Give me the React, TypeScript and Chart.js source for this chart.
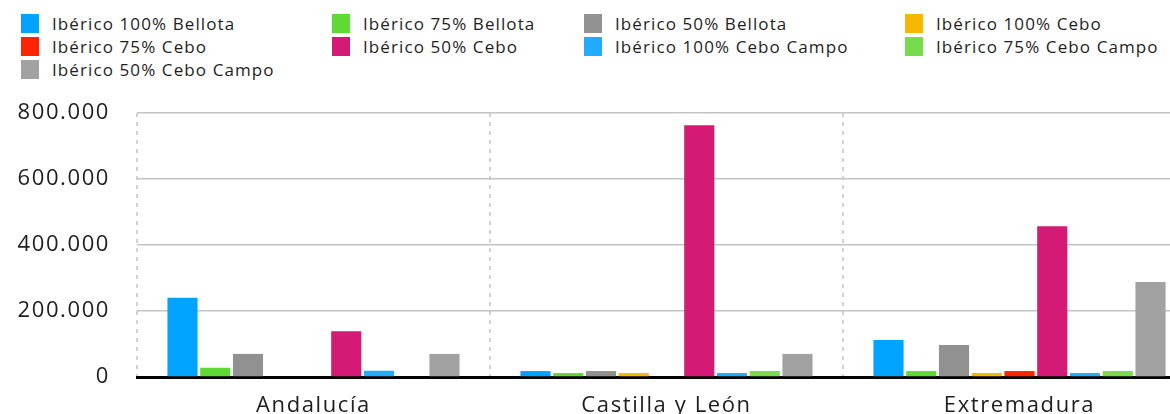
import React, { useEffect, useRef } from "react";
import { Chart, registerables } from "chart.js";

Chart.register(...registerables);

const categories = ["Andalucía", "Castilla y León", "Extremadura"];

const seriesNames = [
  "Ibérico 100% Bellota",
  "Ibérico 75% Bellota",
  "Ibérico 50% Bellota",
  "Ibérico 100% Cebo",
  "Ibérico 75% Cebo",
  "Ibérico 50% Cebo",
  "Ibérico 100% Cebo Campo",
  "Ibérico 75% Cebo Campo",
  "Ibérico 50% Cebo Campo",
];

const seriesColors = [
  "#00A3FF",
  "#5FD934",
  "#919191",
  "#F5B700",
  "#FF2400",
  "#D41A75",
  "#22ACFF",
  "#76DC4C",
  "#A2A2A2",
];

const bellota100 = [240000, 18000, 112000];
const bellota75 = [28000, 12000, 18000];
const bellota50 = [70000, 18000, 97000];
const cebo100 = [0, 12000, 12000];
const cebo75 = [0, 0, 18000];
const cebo50 = [139000, 763000, 457000];
const ceboCampo100 = [19000, 12000, 12000];
const ceboCampo75 = [0, 18000, 18000];
const ceboCampo50 = [70000, 70000, 288000];

const seriesValues = [
  bellota100,
  bellota75,
  bellota50,
  cebo100,
  cebo75,
  cebo50,
  ceboCampo100,
  ceboCampo75,
  ceboCampo50,
];

const yMin = 0;
const yMax = 800000;
const yStep = 200000;

const FONT = "'Open Sans', 'Noto Sans', sans-serif";

function formatThousands(v: number): string {
  return String(Math.round(v)).replace(/\B(?=(\d{3})+(?!\d))/g, ".");
}

const SPACING = "1.6px";

const spacingPlugin = {
  id: "letterSpacing",
  beforeInit(chart: any) {
    (chart.ctx as any).letterSpacing = SPACING;
  },
  beforeUpdate(chart: any) {
    (chart.ctx as any).letterSpacing = SPACING;
  },
  beforeDraw(chart: any) {
    (chart.ctx as any).letterSpacing = SPACING;
  },
};

const CANVAS_W = 1210;
const CANVAS_H = 345;
const CANVAS_TOP = 90;

function Legend() {
  return (
    <div
      style={{
        position: "absolute",
        left: 21,
        top: 12,
        display: "grid",
        gridTemplateColumns: "311px 252px 321px auto",
        gridAutoRows: "23px",
        fontFamily: FONT,
        fontSize: "17px",
        letterSpacing: "1.1px",
        color: "#1e1e1e",
      }}
    >
      {seriesNames.map((name, i) => (
        <div
          key={name}
          style={{ display: "flex", alignItems: "center", whiteSpace: "nowrap" }}
        >
          <span
            style={{
              display: "inline-block",
              width: 18,
              height: 19,
              background: seriesColors[i],
              marginRight: 13,
              flex: "0 0 auto",
            }}
          />
          <span>{name}</span>
        </div>
      ))}
    </div>
  );
}

export default function App() {
  const canvasRef = useRef<HTMLCanvasElement | null>(null);

  useEffect(() => {
    const canvas = canvasRef.current;
    if (!canvas) return;
    const chart = new Chart(canvas, {
      type: "bar",
      data: {
        labels: categories,
        datasets: seriesNames.map((name, i) => ({
          label: name,
          data: seriesValues[i],
          backgroundColor: seriesColors[i],
          borderWidth: 0,
          categoryPercentage: 0.835,
          barPercentage: 0.92,
        })),
      },
      options: {
        responsive: false,
        animation: false,
        devicePixelRatio: 1,
        layout: { padding: { top: 23, left: 0, right: 14, bottom: 0 } },
        plugins: {
          legend: { display: false },
          tooltip: { enabled: false },
          title: { display: false },
        },
        scales: {
          x: {
            offset: true,
            grid: {
              display: true,
              offset: true,
              color: "#d2d2d2",
              lineWidth: 2,
              drawTicks: false,
            },
            border: { display: true, color: "#000000", width: 3, dash: [4, 5] },
            ticks: {
              padding: 16,
              color: "#1e1e1e",
              font: { family: FONT, size: 22 },
            },
            afterFit(scale: any) {
              scale.height = CANVAS_H - (377 - CANVAS_TOP);
            },
          },
          y: {
            min: yMin,
            max: yMax,
            grid: {
              color: "#c4c4c4",
              lineWidth: 1.5,
              drawTicks: true,
              tickLength: 24,
              tickColor: "rgba(0,0,0,0)",
            },
            border: { display: false },
            ticks: {
              stepSize: yStep,
              padding: 3,
              color: "#1e1e1e",
              font: { family: FONT, size: 22 },
              callback: (v: any) => formatThousands(Number(v)),
            },
            afterFit(scale: any) {
              scale.width = 137;
            },
          },
        },
      },
      plugins: [spacingPlugin],
    });
    return () => chart.destroy();
  }, []);

  return (
    <div
      style={{
        position: "absolute",
        left: 0,
        top: 0,
        width: 1170,
        height: 414,
        overflow: "hidden",
        background: "#ffffff",
      }}
    >
      <Legend />
      <canvas
        ref={canvasRef}
        width={CANVAS_W}
        height={CANVAS_H}
        style={{
          position: "absolute",
          left: 0,
          top: CANVAS_TOP,
          width: CANVAS_W,
          height: CANVAS_H,
        }}
      />
    </div>
  );
}
